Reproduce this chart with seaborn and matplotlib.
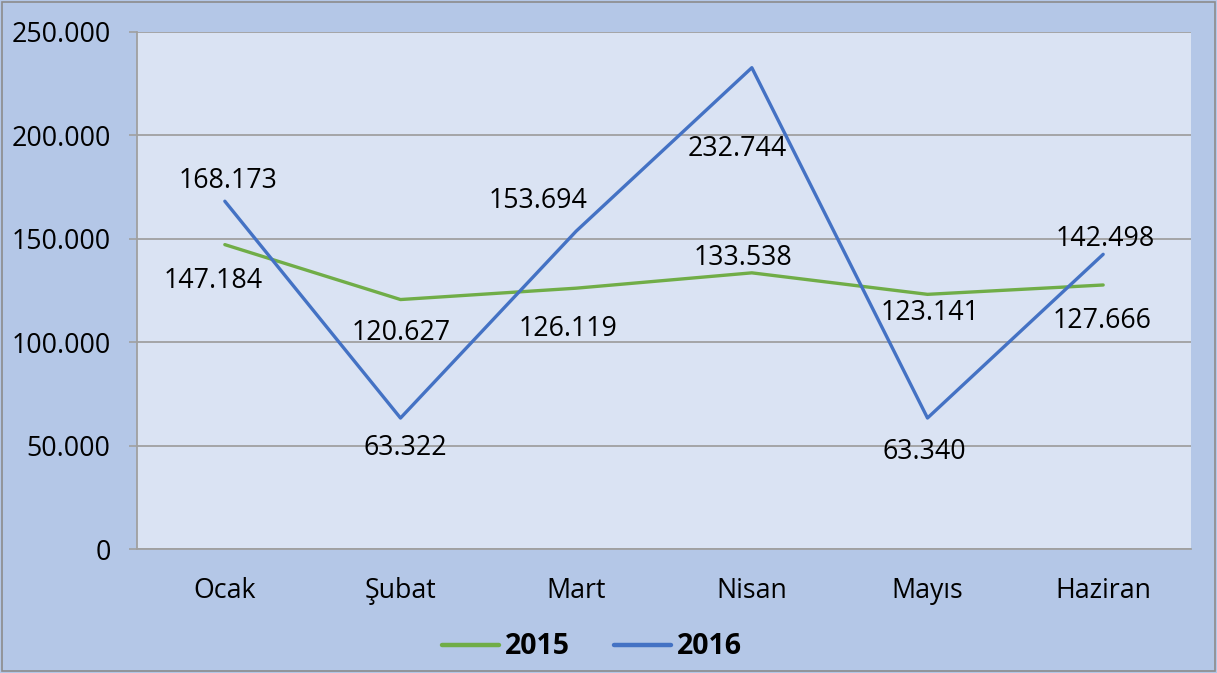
import matplotlib
matplotlib.use("Agg")
import matplotlib.pyplot as plt
import matplotlib.patches as mpatches
from matplotlib.ticker import FuncFormatter, FixedLocator
import seaborn as sns
import pandas as pd

# ---- data ----
months = ["Ocak", "Şubat", "Mart", "Nisan", "Mayıs", "Haziran"]
years = ["2015", "2016"]
values_2015 = [147184, 120627, 126119, 133538, 123141, 127666]
values_2016 = [168173, 63322, 153694, 232744, 63340, 142498]
y_ticks = [0, 50000, 100000, 150000, 200000, 250000]

# label offsets in pixels (dx, dy; dy positive = downwards)
offs_2015 = [(-12, 36), (0.5, 33), (-8, 41), (-9, -15), (3, 19), (-1.5, 36)]
offs_2016 = [(3, -20), (5, 29.5), (-38, -30), (-15, 81), (-3, 34), (2, -15)]

df = pd.DataFrame({
    "month": months * 2,
    "year": [years[0]] * len(months) + [years[1]] * len(months),
    "value": values_2015 + values_2016,
})

sns.set_theme(style="white")
FONT = ["Open Sans", "DejaVu Sans"]
plt.rcParams["font.family"] = FONT
plt.rcParams["text.color"] = "black"

DPI = 100
W, H = 1217, 673
fig = plt.figure(figsize=(W / DPI, H / DPI), dpi=DPI)
fig.patch.set_facecolor("#B4C7E7")

left, right, top, bottom = 137, 1191, 32, 549
ax = fig.add_axes([left / W, 1 - bottom / H, (right - left) / W, (bottom - top) / H])
ax.set_facecolor("#DAE3F3")

colors = {"2015": "#70AD47", "2016": "#4472C4"}
sns.lineplot(data=df, x="month", y="value", hue="year", palette=colors,
             linewidth=2.4, ax=ax, sort=False, errorbar=None)

ax.set_xlim(-0.5, len(months) - 0.5)
ax.set_ylim(0, 250000)
ax.set_xlabel("")
ax.set_ylabel("")

fmt = lambda v: f"{int(round(v)):,}".replace(",", ".")
ax.yaxis.set_major_locator(FixedLocator(y_ticks))
ax.yaxis.set_major_formatter(FuncFormatter(lambda v, p: fmt(v)))
ax.grid(axis="y", color="#A0A0A0", linewidth=1.3)
ax.set_axisbelow(True)

FS = 19.3

# x ticks: labels at centres, marks at boundaries
ax.set_xticks(range(len(months)))
ax.set_xticklabels(months)
ax.set_xticks([i - 0.5 for i in range(len(months) + 1)], minor=True)
ax.tick_params(axis="x", which="major", length=0, pad=20, labelsize=FS, labelcolor="black")
ax.tick_params(axis="x", which="minor", length=7, width=1.2, color="#A0A0A0", direction="out")
ax.tick_params(axis="y", which="major", length=6, width=1.2, color="#A0A0A0", pad=13,
               labelsize=FS, labelcolor="black", left=True)

for s in ["top", "right"]:
    ax.spines[s].set_visible(False)
for s in ["left", "bottom"]:
    ax.spines[s].set_color("#A0A0A0")
    ax.spines[s].set_linewidth(1.3)

# data labels
px2pt = 72 / DPI
for vals, offs in [(values_2015, offs_2015), (values_2016, offs_2016)]:
    for i, (v, (dx, dy)) in enumerate(zip(vals, offs)):
        ax.annotate(fmt(v), xy=(i, v), xytext=(dx * px2pt, -dy * px2pt),
                    textcoords="offset points", ha="center", va="center",
                    fontsize=FS, color="black", family=FONT)

# legend
handles, labels = ax.get_legend_handles_labels()
if ax.get_legend() is not None:
    ax.get_legend().remove()
leg = fig.legend(handles, labels, loc="center", bbox_to_anchor=(592 / W, 1 - 647 / H),
                 ncol=2, frameon=False, handlelength=2.0, handletextpad=0.2,
                 columnspacing=1.55, labelcolor="black",
                 prop={"family": FONT, "weight": "bold", "size": 20.5})
for line in leg.get_lines():
    line.set_linewidth(3.2)

# outer border
fig.patches.append(mpatches.Rectangle((2 / W, 2 / H), 1 - 4 / W, 1 - 4 / H,
                                      transform=fig.transFigure, fill=False,
                                      edgecolor="#8C8C8C", linewidth=1.2))

fig.savefig("out.png", dpi=DPI, facecolor=fig.get_facecolor())
